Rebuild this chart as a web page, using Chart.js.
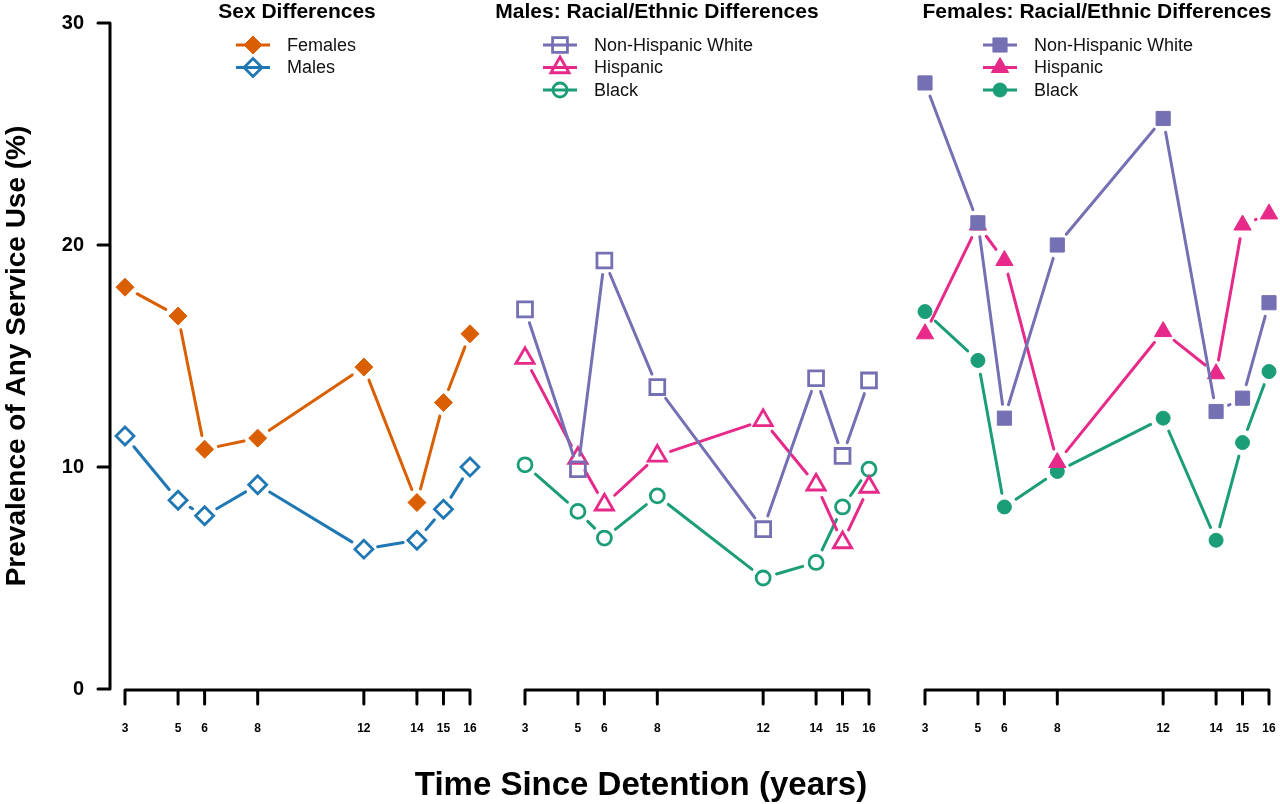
<!DOCTYPE html>
<html>
<head>
<meta charset="utf-8">
<script src="https://cdn.jsdelivr.net/npm/chart.js@4.4.1/dist/chart.umd.min.js"></script>
<style>
  html, body { margin: 0; padding: 0; background: #fff; }
  #wrap { position: relative; width: 1280px; height: 804px; }
  #wrap canvas { position: absolute; left: 0; top: 0; }
</style>
</head>
<body>
<div id="wrap">
  <canvas id="sex" width="1280" height="804"></canvas>
  <canvas id="males" width="1280" height="804"></canvas>
  <canvas id="females" width="1280" height="804"></canvas>
</div>
<script>
// years since detention (x) and y ticks
const years = [3, 5, 6, 8, 12, 14, 15, 16];
const yTicks = [0, 10, 20, 30];

// panel 1: sex differences
const females = [18.1, 16.8, 10.8, 11.3, 14.5, 8.4, 12.9, 16.0];
const males = [11.4, 8.5, 7.8, 9.2, 6.3, 6.7, 8.1, 10.0];

// panel 2: males by race/ethnicity
const malesWhite = [17.1, 9.9, 19.3, 13.6, 7.2, 14.0, 10.5, 13.9];
const malesHispanic = [14.9, 10.4, 8.3, 10.5, 12.1, 9.2, 6.6, 9.1];
const malesBlack = [10.1, 8.0, 6.8, 8.7, 5.0, 5.7, 8.2, 9.9];

// panel 3: females by race/ethnicity
const femalesWhite = [27.3, 21.0, 12.2, 20.0, 25.7, 12.5, 13.1, 17.4];
const femalesHispanic = [16.0, 20.9, 19.3, 10.2, 16.1, 14.2, 20.9, 21.4];
const femalesBlack = [17.0, 14.8, 8.2, 9.8, 12.2, 6.7, 11.1, 14.3];

const ORANGE = '#d95f02', BLUE = '#1f78b4', PURPLE = '#7570b3', PINK = '#e7298a', GREEN = '#1b9e77';
const FONT = "'Liberation Sans', Arial, Helvetica, sans-serif";
const GAP = 14;

function series(label, values, color, style, filled, radius) {
  return {
    label: label,
    data: years.map((x, i) => ({ x: x, y: values[i] })),
    borderColor: color,
    backgroundColor: color,
    borderWidth: 3,
    showLine: false,
    clip: false,
    pointStyle: style,
    pointRadius: radius,
    pointHoverRadius: radius,
    pointBackgroundColor: filled ? color : 'rgba(0,0,0,0)',
    pointBorderColor: color,
    pointBorderWidth: filled ? 1 : 2.8
  };
}

// R-ish look: lines with gaps around points, axes with detached ticks, legend with line+marker
const rLook = {
  id: 'rLook',
  beforeDatasetsDraw(chart, args, opts) {
    const ctx = chart.ctx, x = chart.scales.x, y = chart.scales.y, area = chart.chartArea;
    ctx.save();
    ctx.strokeStyle = '#000';
    ctx.lineWidth = 3;
    ctx.lineCap = 'round';
    // x axis from first to last tick
    const yb = area.bottom + 1;
    ctx.beginPath();
    ctx.moveTo(x.getPixelForValue(years[0]), yb);
    ctx.lineTo(x.getPixelForValue(years[years.length - 1]), yb);
    years.forEach(v => {
      const px = x.getPixelForValue(v);
      ctx.moveTo(px, yb);
      ctx.lineTo(px, yb + 14);
    });
    ctx.stroke();
    if (opts.yAxis) {
      const xa = area.left - 15;
      ctx.beginPath();
      ctx.moveTo(xa, y.getPixelForValue(yTicks[0]));
      ctx.lineTo(xa, y.getPixelForValue(yTicks[yTicks.length - 1]));
      yTicks.forEach(v => {
        const py = y.getPixelForValue(v);
        ctx.moveTo(xa, py);
        ctx.lineTo(xa - 12, py);
      });
      ctx.stroke();
    }
    ctx.restore();
  },
  beforeDatasetDraw(chart, args) {
    const ctx = chart.ctx;
    const ds = chart.data.datasets[args.index];
    const pts = args.meta.data;
    ctx.save();
    ctx.strokeStyle = ds.borderColor;
    ctx.lineWidth = ds.borderWidth;
    ctx.lineCap = 'round';
    ctx.beginPath();
    for (let i = 0; i < pts.length - 1; i++) {
      const a = pts[i], b = pts[i + 1];
      const dx = b.x - a.x, dy = b.y - a.y;
      const len = Math.hypot(dx, dy);
      if (len <= 2 * GAP) continue;
      const ux = dx / len, uy = dy / len;
      ctx.moveTo(a.x + ux * GAP, a.y + uy * GAP);
      ctx.lineTo(b.x - ux * GAP, b.y - uy * GAP);
    }
    ctx.stroke();
    ctx.restore();
  },
  afterDraw(chart, args, opts) {
    const ctx = chart.ctx;
    ctx.save();
    ctx.fillStyle = '#000';
    ctx.textBaseline = 'middle';
    ctx.textAlign = 'center';
    ctx.font = 'bold 21px ' + FONT;
    ctx.fillText(opts.title, opts.titleX, 12);
    if (opts.xTitle) {
      ctx.font = 'bold 33px ' + FONT;
      ctx.fillText(opts.xTitle, 641, 786);
    }
    // legend
    chart.data.datasets.forEach((ds, i) => {
      const cx = opts.legendX, cy = 45 + i * 22.5;
      ctx.strokeStyle = ds.borderColor;
      ctx.lineWidth = 3;
      ctx.beginPath();
      ctx.moveTo(cx - 17, cy);
      ctx.lineTo(cx + 17, cy);
      ctx.stroke();
      ctx.fillStyle = ds.pointBackgroundColor;
      ctx.strokeStyle = ds.pointBorderColor;
      ctx.lineWidth = ds.pointBorderWidth;
      Chart.helpers.drawPoint(ctx, {
        pointStyle: ds.pointStyle, radius: ds.pointRadius, rotation: 0, borderWidth: ds.pointBorderWidth
      }, cx, cy);
      ctx.fillStyle = '#111';
      ctx.textAlign = 'left';
      ctx.font = '18px ' + FONT;
      ctx.fillText(ds.label, cx + 34, cy + 1);
    });
    ctx.restore();
  }
};

function makePanel(id, datasets, decor, left, right) {
  const first = decor.yAxis;
  return new Chart(document.getElementById(id), {
    type: 'line',
    data: { datasets: datasets },
    plugins: [rLook],
    options: {
      responsive: false,
      animation: false,
      events: [],
      layout: { padding: { left: first ? 0 : left, right: 1280 - right, top: 23, bottom: 0 } },
      plugins: {
        legend: { display: false },
        tooltip: { enabled: false },
        rLook: decor
      },
      scales: {
        x: {
          type: 'linear',
          min: years[0],
          max: years[years.length - 1],
          afterBuildTicks: s => { s.ticks = years.map(v => ({ value: v })); },
          afterFit: s => { s.height = 115; s.paddingLeft = 0; s.paddingRight = 0; },
          grid: { display: false, drawTicks: false },
          border: { display: false },
          ticks: { color: '#000', font: { family: FONT, size: 12, weight: 'bold' }, padding: 32, maxRotation: 0, autoSkip: false }
        },
        y: {
          display: first,
          min: yTicks[0],
          max: yTicks[yTicks.length - 1],
          afterBuildTicks: s => { s.ticks = yTicks.map(v => ({ value: v })); },
          afterFit: s => { s.width = first ? left : 0; s.paddingTop = 0; s.paddingBottom = 0; },
          grid: { display: false, drawTicks: false },
          border: { display: false },
          ticks: { color: '#000', font: { family: FONT, size: 20, weight: 'bold' }, padding: 41 },
          title: {
            display: true,
            text: 'Prevalence of Any Service Use (%)',
            color: '#000',
            font: { family: FONT, size: 28, weight: 'bold' },
            padding: 0
          }
        }
      }
    }
  });
}

makePanel('sex', [
  series('Females', females, ORANGE, 'rectRot', true, 9),
  series('Males', males, BLUE, 'rectRot', false, 9)
], { title: 'Sex Differences', titleX: 297, legendX: 253, yAxis: true, xTitle: 'Time Since Detention (years)' }, 125, 470);

makePanel('males', [
  series('Non-Hispanic White', malesWhite, PURPLE, 'rect', false, 10.5),
  series('Hispanic', malesHispanic, PINK, 'triangle', false, 10.5),
  series('Black', malesBlack, GREEN, 'circle', false, 7)
], { title: 'Males: Racial/Ethnic Differences', titleX: 657, legendX: 560, yAxis: false }, 525, 869);

makePanel('females', [
  series('Non-Hispanic White', femalesWhite, PURPLE, 'rect', true, 10),
  series('Hispanic', femalesHispanic, PINK, 'triangle', true, 10),
  series('Black', femalesBlack, GREEN, 'circle', true, 7)
], { title: 'Females: Racial/Ethnic Differences', titleX: 1097, legendX: 1000, yAxis: false }, 925, 1269);
</script>
</body>
</html>
